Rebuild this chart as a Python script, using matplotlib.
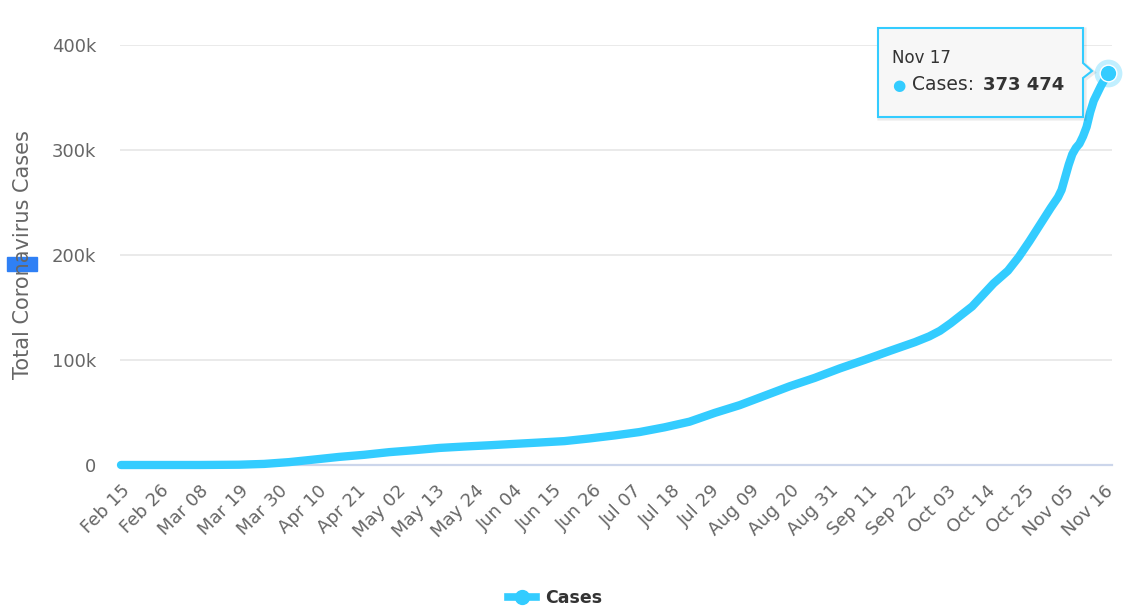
import matplotlib
matplotlib.use("Agg")
import matplotlib.pyplot as plt
import pandas as pd
from matplotlib.patches import Polygon, Rectangle
from matplotlib.lines import Line2D

# cumulative cases
dates = ["2020-02-15", "2020-02-26", "2020-03-08", "2020-03-19", "2020-03-26",
         "2020-04-02", "2020-04-09", "2020-04-16", "2020-04-23", "2020-04-30",
         "2020-05-07", "2020-05-14", "2020-05-21", "2020-05-28", "2020-06-04",
         "2020-06-11", "2020-06-18", "2020-06-25", "2020-07-02", "2020-07-09",
         "2020-07-16", "2020-07-23", "2020-07-30", "2020-08-06", "2020-08-13",
         "2020-08-20", "2020-08-27", "2020-09-03", "2020-09-10", "2020-09-17",
         "2020-09-24", "2020-09-28", "2020-10-01", "2020-10-04", "2020-10-07",
         "2020-10-10", "2020-10-13", "2020-10-16", "2020-10-20", "2020-10-23",
         "2020-10-26", "2020-10-29", "2020-11-01", "2020-11-03", "2020-11-04",
         "2020-11-05", "2020-11-06", "2020-11-07", "2020-11-08", "2020-11-09",
         "2020-11-10", "2020-11-11", "2020-11-12", "2020-11-13", "2020-11-14",
         "2020-11-15", "2020-11-16", "2020-11-17"]
cases = [0, 1, 15, 277, 1029,
         2738, 5202, 7707, 9710, 12240,
         14107, 16247, 17585, 18791, 20103,
         21404, 22760, 25286, 28166, 31381,
         35900, 41275, 49591, 57000, 66000,
         75000, 83000, 92000, 100185, 108690,
         117005, 122500, 127800, 135000, 143000,
         151000, 162000, 173000, 185000, 198000,
         213000, 229000, 245000, 255000, 262000,
         274000, 286000, 296000, 302000, 306000,
         313000, 322000, 336000, 347000, 354000,
         361000, 367040, 373474]

tick_labels = ["Feb 15", "Feb 26", "Mar 08", "Mar 19", "Mar 30", "Apr 10", "Apr 21",
               "May 02", "May 13", "May 24", "Jun 04", "Jun 15", "Jun 26", "Jul 07",
               "Jul 18", "Jul 29", "Aug 09", "Aug 20", "Aug 31", "Sep 11", "Sep 22",
               "Oct 03", "Oct 14", "Oct 25", "Nov 05", "Nov 16"]
y_ticks = [0, 100000, 200000, 300000, 400000]
y_labels = ["0", "100k", "200k", "300k", "400k"]

blue = "#33ccff"
W, H = 1135, 610


def fx(x):
    return x / W


def fy(y):
    return 1 - y / H


start = pd.Timestamp("2020-02-15")
days = list((pd.to_datetime(dates) - start).days)
tick_pos = [(pd.to_datetime(t + " 2020", format="%b %d %Y") - start).days for t in tick_labels]

fig = plt.figure(figsize=(W / 100, H / 100), dpi=100)
ax = fig.add_axes([fx(120), fy(465), 992 / W, 420 / H])

ax.plot(days, cases, color=blue, lw=6, solid_joinstyle="round",
        solid_capstyle="round", clip_on=False, zorder=3)
ax.plot(days[-1], cases[-1], "o", ms=20, color=blue, alpha=0.3, mec="none",
        clip_on=False, zorder=4)
ax.plot(days[-1], cases[-1], "o", ms=12, color=blue, mec="white", mew=1,
        clip_on=False, zorder=5)

ax.set_xlim(-0.28, 277.1)
ax.set_ylim(0, 400000)
ax.set_xticks(tick_pos)
ax.set_xticklabels(tick_labels, rotation=45, ha="right", va="top",
                   rotation_mode="anchor")
ax.set_yticks(y_ticks)
ax.set_yticklabels(y_labels)
ax.tick_params(axis="x", length=0, pad=12, labelsize=13, labelcolor="#666666")
ax.tick_params(axis="y", length=0, pad=17, labelsize=13, labelcolor="#666666")
ax.grid(axis="y", color="#e6e6e6", lw=1.2)
ax.set_axisbelow(True)
for s in ["top", "right", "left"]:
    ax.spines[s].set_visible(False)
ax.spines["bottom"].set_color("#ccd6eb")
ax.spines["bottom"].set_linewidth(1.6)

ax.set_ylabel("Total Coronavirus Cases", fontsize=15, color="#666666")
ax.yaxis.set_label_coords(-0.088, 0.5)

# selection highlight over the axis title
fig.patches.append(Rectangle((fx(7), fy(271)), 30 / W, 14 / H, color="#2f80f5",
                             transform=fig.transFigure, zorder=-1))

# tooltip
box = [(878, 28), (1083, 28), (1083, 63), (1092, 71), (1083, 78),
       (1083, 117), (878, 117)]
shadow = Polygon([(fx(x + 1.5), fy(y + 1.5)) for x, y in box], closed=True,
                 transform=fig.transFigure, fc="none", ec="black", alpha=0.08,
                 lw=3, zorder=6)
tip = Polygon([(fx(x), fy(y)) for x, y in box], closed=True,
              transform=fig.transFigure, fc="#f7f7f7", ec=blue, lw=1.5, zorder=7)
fig.patches.extend([shadow, tip])
fig.text(fx(892), fy(58), "Nov 17", fontsize=12, color="#333333",
         va="center", ha="left", zorder=8)
fig.text(fx(899), fy(85), "\u25cf", fontsize=11, color=blue,
         va="center", ha="center", zorder=8)
fig.text(fx(912), fy(85), "Cases:", fontsize=13.5, color="#333333",
         va="center", ha="left", zorder=8)
fig.text(fx(983), fy(85), f"{cases[-1]:,}".replace(",", " "), fontsize=13,
         fontweight="bold", color="#333333", va="center", ha="left", zorder=8)

handle = Line2D([], [], color=blue, lw=5.5, marker="o", ms=10)
fig.legend([handle], ["Cases"], loc="center", bbox_to_anchor=(fx(555), fy(598)),
           frameon=False, prop=dict(weight="bold", size=12.5), labelcolor="#333333",
           handlelength=1.6, handletextpad=0.5)

fig.savefig("out.png", dpi=100)
